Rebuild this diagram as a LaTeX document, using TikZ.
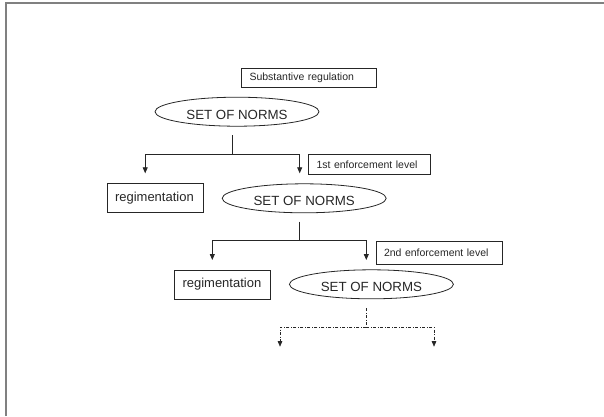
\documentclass[tikz,border=0pt]{standalone}
\usepackage{fontspec}
\setmainfont{Liberation Sans}
\usetikzlibrary{shapes.geometric,arrows.meta}
\tikzset{
  ink/.style={draw=black!85, line width=0.8pt},
  lbox/.style={ink, rectangle, inner xsep=8pt, inner ysep=0pt, align=left, font=\fontsize{10.5}{12}\selectfont, text=black!85},
  rbox/.style={ink, rectangle, inner xsep=8pt, inner ysep=0pt, align=left, font=\fontsize{13}{15}\selectfont, text=black!85},
  ellnode/.style={ink, ellipse, inner sep=0pt, minimum width=164pt, minimum height=29pt, font=\fontsize{13.3}{15}\selectfont, text=black!85, text height=15pt, text depth=0pt},
  arr/.style={ink, -{Triangle[width=5pt,length=6pt]}},
  darr/.style={draw=black!85, line width=0.6pt, dash pattern=on 3pt off 1.5pt on 1pt off 1.5pt, -{Triangle[width=4.5pt,length=5.5pt]}},
  dline/.style={draw=black!85, line width=0.6pt, dash pattern=on 3pt off 1.5pt on 1pt off 1.5pt}
}
\begin{document}
\begin{tikzpicture}[x=1pt,y=-1pt]
\useasboundingbox (0,0) rectangle (604,416);
\draw[gray, line width=1.8pt] (5.7,416) -- (5.7,2.7) -- (604,2.7);

% boxes
\node[lbox, text width=119pt, minimum height=19.3pt] (sub) at (309,77.7) {Substantive regulation};
\node[ellnode] (n1) at (237,111.7) {SET OF NORMS};
\node[lbox, text width=105.5pt, minimum height=20pt] (lev1) at (369.25,164.3) {1st enforcement level};
\node[rbox, text width=80.4pt, minimum height=29pt] (reg1) at (155.2,197.7) {regimentation};
\node[ellnode] (n2) at (304.2,198.3) {SET OF NORMS};
\node[lbox, text width=110.7pt, minimum height=23pt] (lev2) at (439.35,252.5) {2nd enforcement level};
\node[rbox, text width=80.3pt, minimum height=29pt] (reg2) at (222.65,284.5) {regimentation};
\node[ellnode] (n3) at (371.4,284.3) {SET OF NORMS};

% level 1 connectors
\coordinate (s1) at (232,135);
\coordinate (b1) at (232,154.7);
\coordinate (t1l) at (145.2,173.3);
\coordinate (t1r) at (299.7,173.3);
\draw[ink] (s1) -- (b1);
\draw[arr] (b1) -| (t1l);
\draw[arr] (b1) -| (t1r);

% level 2 connectors
\coordinate (s2) at (299.3,221.7);
\coordinate (b2) at (299.3,240.7);
\coordinate (t2l) at (212.3,260);
\coordinate (t2r) at (366.3,260);
\draw[ink] (s2) -- (b2);
\draw[arr] (b2) -| (t2l);
\draw[arr] (b2) -| (t2r);

% level 3 dashed connectors
\coordinate (s3) at (366.3,308.3);
\coordinate (b3) at (366.3,327.3);
\coordinate (t3l) at (280,346.7);
\coordinate (t3r) at (434,346.7);
\draw[dline] (s3) -- (b3);
\draw[darr] (b3) -| (t3l);
\draw[darr] (b3) -| (t3r);
\end{tikzpicture}
\end{document}
